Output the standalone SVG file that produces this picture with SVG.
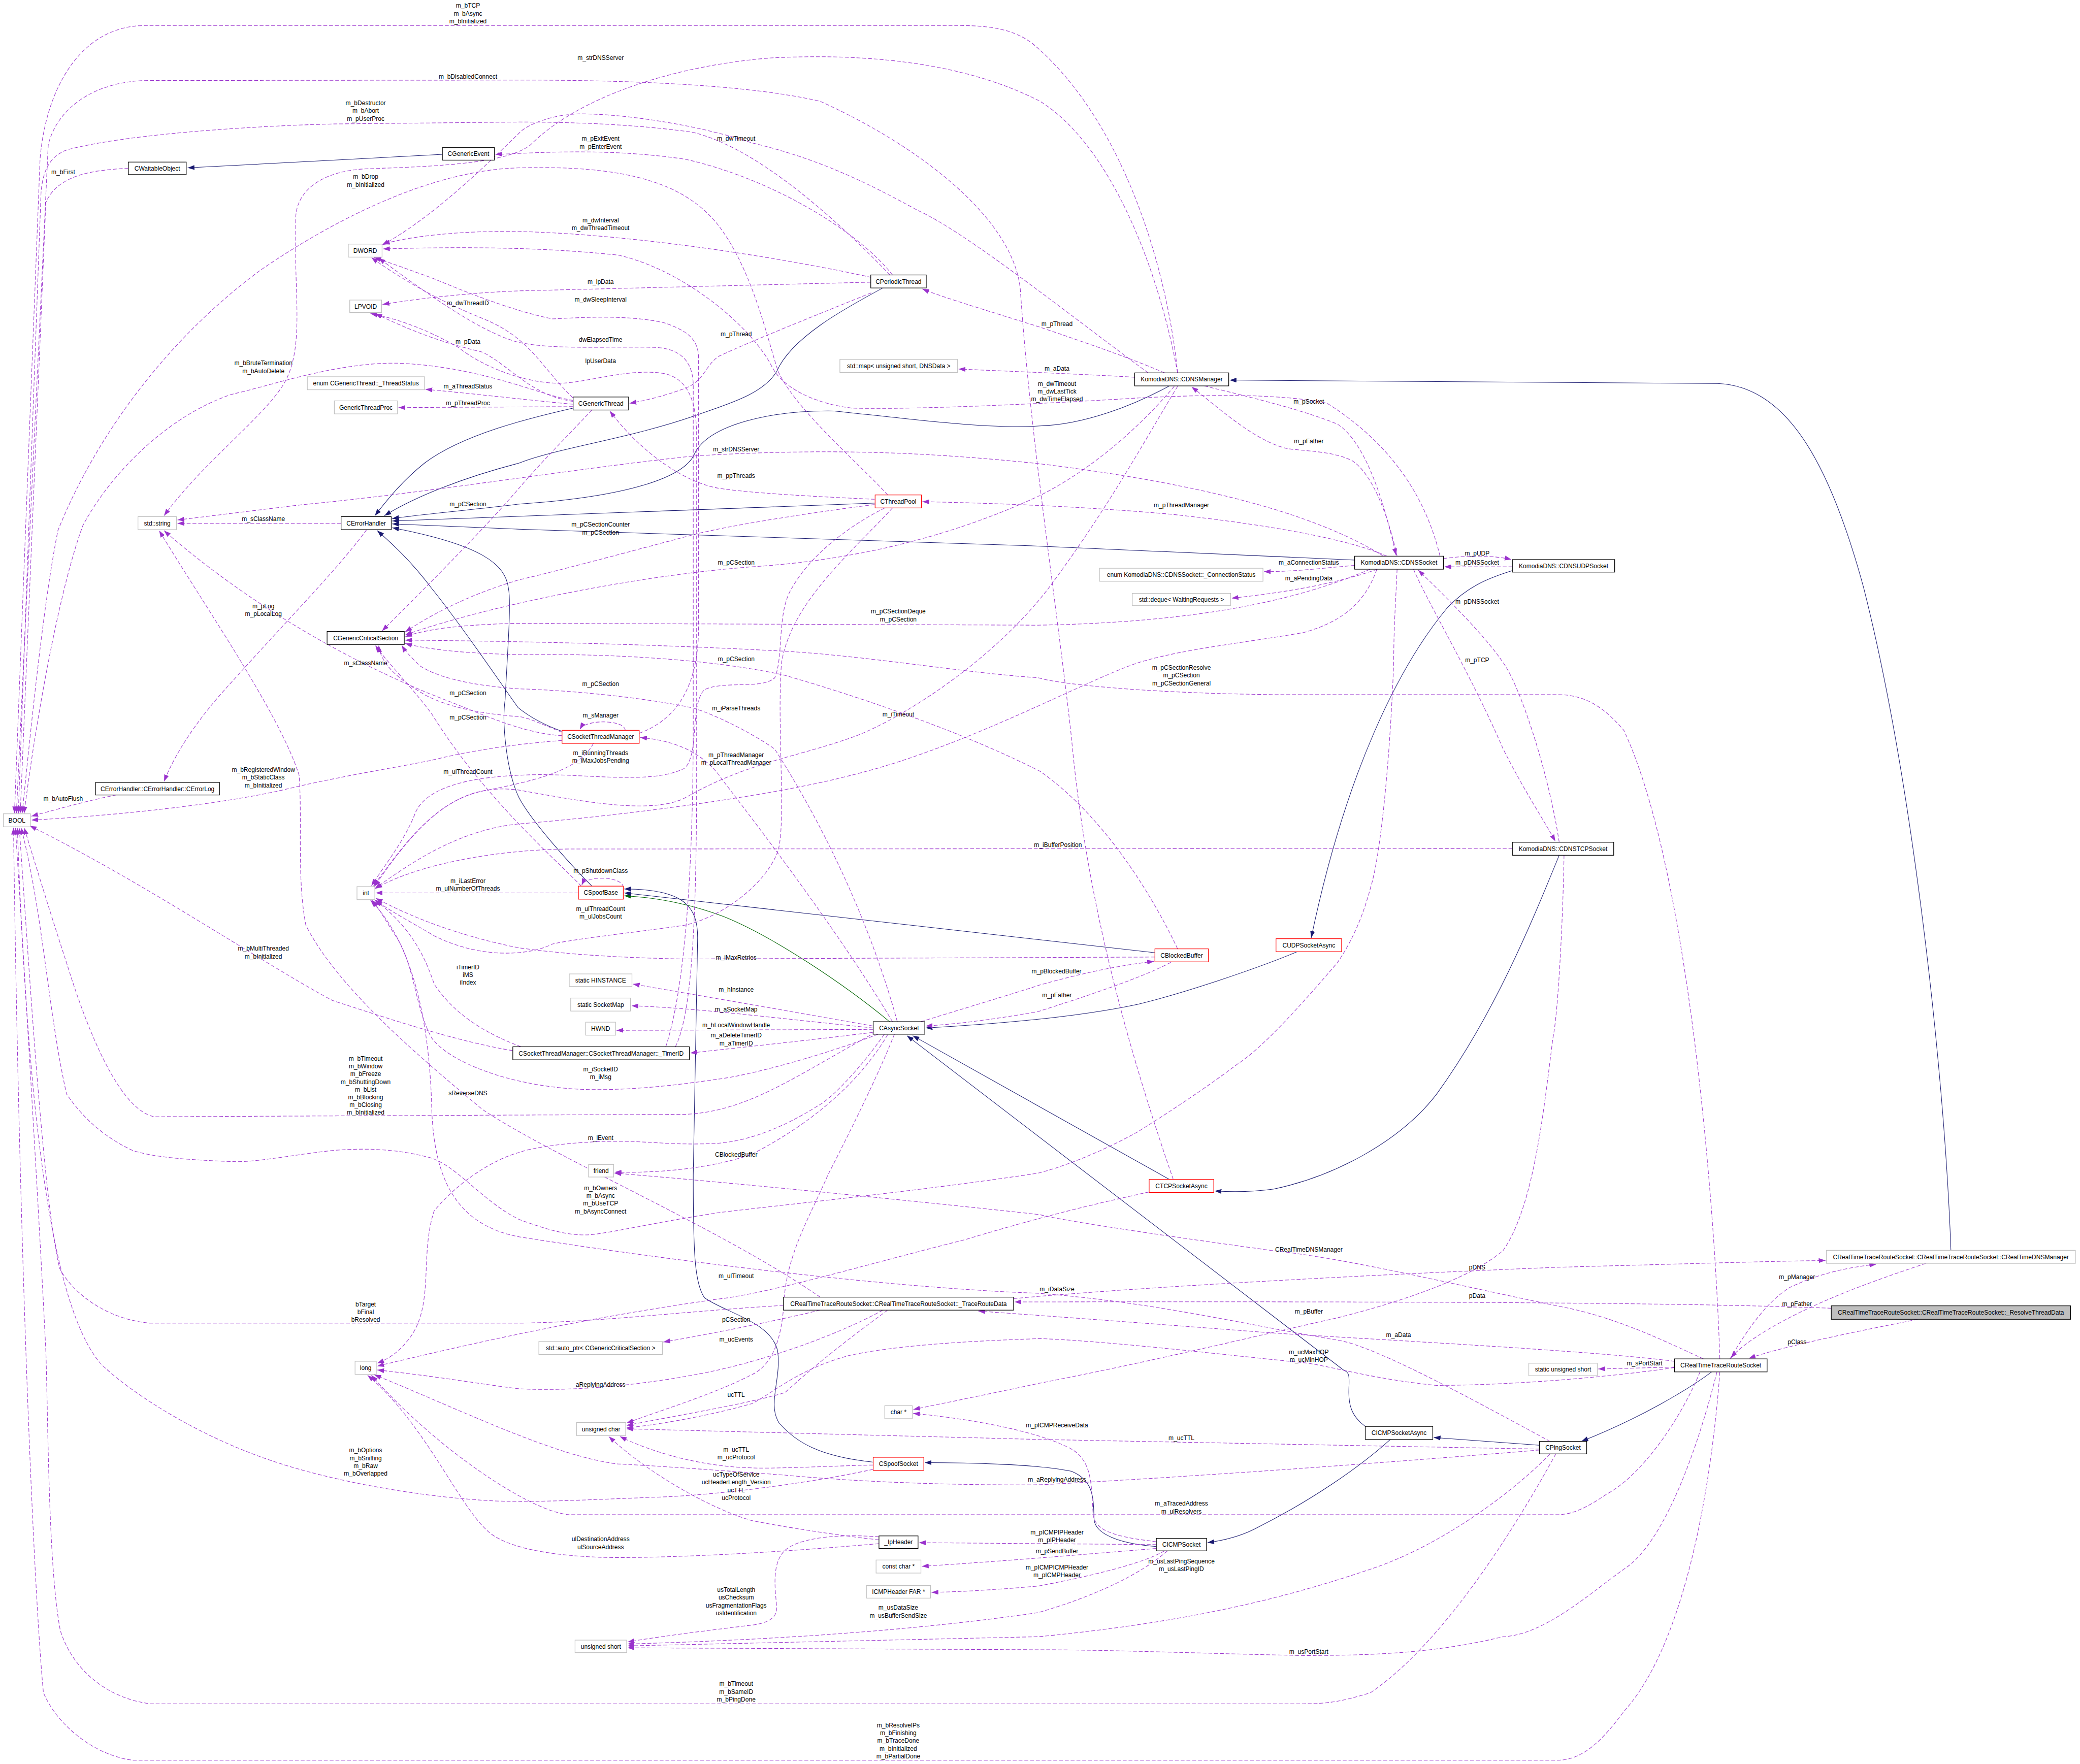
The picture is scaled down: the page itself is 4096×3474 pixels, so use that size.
<svg xmlns="http://www.w3.org/2000/svg" width="4096" height="3474" viewBox="0 0 4096 3474">
<style>
.e{fill:none;stroke:#9a32cd;stroke-width:1.1;stroke-dasharray:8,4;marker-end:url(#ap)}
.i{fill:none;stroke:#191970;stroke-width:1.1;marker-end:url(#an)}
.g{fill:none;stroke:#006400;stroke-width:1.1;marker-end:url(#ag)}
.t{font-family:"Liberation Sans",Arial,sans-serif;font-size:12.7px;fill:#000;text-anchor:middle}
.n rect{fill:#fff;stroke:#000;stroke-width:1.3}
.u rect{fill:#fff;stroke:#bfbfbf;stroke-width:1.3}
.r rect{fill:#fff;stroke:#ff0000;stroke-width:1.3}
.h rect{fill:#bfbfbf;stroke:#000;stroke-width:1.3}
</style>
<defs>
<marker id="ap" viewBox="0 0 14 10" refX="14" refY="5" markerWidth="14" markerHeight="10" markerUnits="userSpaceOnUse" orient="auto"><path d="M0,0 L14,5 L0,10 z" fill="#9a32cd"/></marker>
<marker id="an" viewBox="0 0 14 10" refX="14" refY="5" markerWidth="14" markerHeight="10" markerUnits="userSpaceOnUse" orient="auto"><path d="M0,0 L14,5 L0,10 z" fill="#191970"/></marker>
<marker id="ag" viewBox="0 0 14 10" refX="14" refY="5" markerWidth="14" markerHeight="10" markerUnits="userSpaceOnUse" orient="auto"><path d="M0,0 L14,5 L0,10 z" fill="#006400"/></marker>
</defs>
<rect width="4096" height="3474" fill="#fff"/>
<g transform="scale(0.95)">
<g id="connectors">
<!-- inheritance -->
<path class="i" d="M917,320 L389,348"/>
<path class="i" d="M1188,846 C1100,866 960,900 880,960 C830,1000 800,1040 777,1069"/>
<path class="i" d="M1830,597 C1750,640 1640,700 1610,770 C1580,820 1500,840 1434,864 C1300,910 1150,930 1076,960 C960,990 860,1030 797,1069"/>
<path class="i" d="M2424,800 C2350,840 2250,880 2156,883 C2050,890 1900,870 1730,852 C1600,850 1470,880 1440,940 C1420,990 1300,1030 1076,1045 C950,1060 860,1068 813,1075"/>
<path class="i" d="M1814,1043 L813,1080"/>
<path class="i" d="M2808,1161 L2152,1132 L1076,1097 L813,1086"/>
<path class="i" d="M1165,1516 C1120,1500 1090,1480 1074,1467 C1040,1420 960,1300 895,1220 C850,1160 810,1125 782,1100"/>
<path class="i" d="M1227,1837 C1180,1790 1100,1700 1076,1654 C1050,1600 1040,1500 1047,1451 C1052,1350 1060,1250 1054,1220 C1048,1170 1000,1130 813,1094"/>
<path class="g" d="M1844,2118 C1750,2040 1600,1940 1500,1900 C1420,1870 1350,1860 1294,1857"/>
<path class="i" d="M1810,3031 C1700,3020 1650,2990 1615,2950 C1590,2910 1620,2860 1612,2801 C1600,2740 1500,2720 1460,2690 C1440,2660 1437,2600 1437,2436 L1446,1950 C1448,1880 1420,1843 1294,1843"/>
<path class="i" d="M2394,1975 L1294,1851"/>
<path class="i" d="M3135,1183 C3080,1200 3040,1218 3000,1260 C2900,1380 2790,1600 2718,1944"/>
<path class="i" d="M2689,1973 C2600,2010 2450,2060 2358,2082 C2250,2105 2100,2121 1919,2131"/>
<path class="i" d="M2424,2445 L1892,2147"/>
<path class="i" d="M2830,2957 C2800,2935 2796,2910 2796,2887 C2796,2860 2800,2845 2786,2841 L1880,2147"/>
<path class="i" d="M3232,1773 C3180,1900 3100,2100 2978,2268 C2900,2370 2760,2440 2640,2465 C2590,2472 2550,2471 2518,2469"/>
<path class="i" d="M3191,2996 L2972,2980"/>
<path class="i" d="M2882,2984 C2820,3040 2720,3110 2600,3170 C2570,3185 2540,3193 2503,3198"/>
<path class="i" d="M2397,3206 C2320,3200 2270,3180 2268,3150 C2266,3110 2270,3070 2221,3050 C2150,3035 2000,3032 1917,3032"/>
<path class="i" d="M3548,2844 C3500,2880 3400,2940 3278,2988"/>
<path class="i" d="M4044,2592 C4030,2200 3960,1600 3863,1218 C3790,950 3700,800 3560,795 L2549,788"/>

<!-- BOOL -->
<g><path class="e" d="M2441,773 C2420,560 2330,250 2140,90 C2100,60 2050,53 1990,53 L300,53 C170,53 95,180 83,330 L30,1686"/><text class="t" x="970" y="16"><tspan x="970">m_bTCP</tspan><tspan x="970" dy="16.2">m_bAsync</tspan><tspan x="970" dy="16.2">m_bInitialized</tspan></text></g>
<g><path class="e" d="M2432,2445 C2330,2150 2250,1850 2221,1529 C2190,1250 2135,900 2115,600 C2100,450 1900,300 1700,210 C1550,175 1300,166 1076,166 L300,167 C200,170 120,220 100,300 L34,1686"/><text class="t" x="970" y="163">m_bDisabledConnect</text></g>
<g><path class="e" d="M1845,570 C1700,420 1550,300 1434,274 C1300,255 1150,253 1076,253 L689,257 C500,262 250,280 138,311 C100,325 88,360 85,400 L38,1686"/><text class="t" x="758" y="218"><tspan x="758">m_bDestructor</tspan><tspan x="758" dy="16.2">m_bAbort</tspan><tspan x="758" dy="16.2">m_pUserProc</tspan></text></g>
<g><path class="e" d="M266,349 C200,352 120,360 95,420 L42,1686"/><text class="t" x="131" y="361">m_bFirst</text></g>
<g><path class="e" d="M1840,1026 C1780,960 1650,850 1613,770 C1590,700 1560,560 1489,467 C1420,380 1300,342 1076,348 C900,352 700,450 540,560 C350,700 200,900 120,1100 C90,1250 65,1500 46,1686"/><text class="t" x="758" y="371"><tspan x="758">m_bDrop</tspan><tspan x="758" dy="16.2">m_bInitialized</tspan></text></g>
<g><path class="e" d="M1188,830 C1120,820 1000,760 826,753 C700,750 560,800 482,817 C350,860 230,980 172,1089 C130,1200 80,1450 50,1686"/><text class="t" x="546" y="757"><tspan x="546">m_bBruteTermination</tspan><tspan x="546" dy="16.2">m_bAutoDelete</tspan></text></g>
<g><path class="e" d="M241,1648 C180,1660 110,1680 65,1692"/><text class="t" x="131" y="1660">m_bAutoFlush</text></g>
<g><path class="e" d="M1165,1535 C1100,1540 1000,1550 895,1576 C800,1595 700,1610 585,1638 C450,1668 250,1690 65,1700"/><text class="t" x="546" y="1600"><tspan x="546">m_bRegisteredWindow</tspan><tspan x="546" dy="16.2">m_bStaticClass</tspan><tspan x="546" dy="16.2">m_bInitialized</tspan></text></g>
<g><path class="e" d="M1063,2178 C950,2160 800,2110 689,2074 C550,2000 300,1830 62,1712"/><text class="t" x="546" y="1971"><tspan x="546">m_bMultiThreaded</tspan><tspan x="546" dy="16.2">m_bInitialized</tspan></text></g>
<g><path class="e" d="M1815,2140 C1650,2230 1550,2305 1420,2310 L320,2315 C240,2300 170,2100 138,1996 C100,1880 70,1780 50,1716"/><text class="t" x="758" y="2199"><tspan x="758">m_bTimeout</tspan><tspan x="758" dy="16">m_bWindow</tspan><tspan x="758" dy="16">m_bFreeze</tspan><tspan x="758" dy="16">m_bShuttingDown</tspan><tspan x="758" dy="16">m_bList</tspan><tspan x="758" dy="16">m_bBlocking</tspan><tspan x="758" dy="16">m_bClosing</tspan><tspan x="758" dy="16">m_bInitialized</tspan></text></g>
<g><path class="e" d="M2896,1180 C2893,1250 2889,1300 2889,1374 C2880,1600 2860,1780 2841,1840 C2820,1920 2790,1970 2772,1996 C2700,2080 2620,2170 2565,2206 C2480,2270 2400,2320 2359,2346 C2280,2390 2200,2420 2152,2432 C1900,2470 1600,2500 1489,2514 C1350,2535 1250,2560 1214,2560 C1180,2560 1150,2555 1076,2528 C1000,2490 950,2420 895,2401 C820,2380 750,2380 689,2385 C600,2395 530,2410 482,2408 C400,2405 320,2400 275,2385 C200,2350 160,2300 138,2268 C100,2100 90,1900 44,1716"/><text class="t" x="1245" y="2467"><tspan x="1245">m_bOwners</tspan><tspan x="1245" dy="16.1">m_bAsync</tspan><tspan x="1245" dy="16.1">m_bUseTCP</tspan><tspan x="1245" dy="16.1">m_bAsyncConnect</tspan></text></g>
<g><path class="e" d="M1624,2706 C1400,2720 1250,2740 1076,2743 L311,2743 C220,2735 150,2680 124,2630 C90,2500 60,2000 40,1716"/><text class="t" x="758" y="2708"><tspan x="758">bTarget</tspan><tspan x="758" dy="16">bFinal</tspan><tspan x="758" dy="16">bResolved</tspan></text></g>
<g><path class="e" d="M1810,3046 C1700,3070 1500,3100 1351,3104 C1200,3110 1080,3116 1000,3110 C850,3100 700,3070 600,3040 C400,2980 250,2870 207,2825 C120,2720 60,2400 36,1716"/><text class="t" x="758" y="3011"><tspan x="758">m_bOptions</tspan><tspan x="758" dy="16">m_bSniffing</tspan><tspan x="758" dy="16">m_bRaw</tspan><tspan x="758" dy="16">m_bOverlapped</tspan></text></g>
<g><path class="e" d="M3225,3014 C3150,3150 3000,3400 2841,3509 C2780,3528 2750,3532 2703,3532 L311,3532 C220,3520 150,3460 125,3380 C100,3250 100,2950 95,2800 C80,2500 50,2000 32,1716"/><text class="t" x="1526" y="3495"><tspan x="1526">m_bTimeout</tspan><tspan x="1526" dy="16.2">m_bSameID</tspan><tspan x="1526" dy="16.2">m_bPingDone</tspan></text></g>
<g><path class="e" d="M3565,2844 C3550,3050 3500,3400 3366,3548 C3320,3610 3280,3649 3228,3649 L275,3649 C200,3640 120,3580 90,3509 C70,3300 40,2600 28,1716"/><text class="t" x="1862" y="3581"><tspan x="1862">m_bResolveIPs</tspan><tspan x="1862" dy="16">m_bFinishing</tspan><tspan x="1862" dy="16">m_bTraceDone</tspan><tspan x="1862" dy="16">m_bInitialized</tspan><tspan x="1862" dy="16">m_bPartialDone</tspan></text></g>

<!-- std::string -->
<g><path class="e" d="M707,1085 L368,1085"/><text class="t" x="546" y="1080">m_sClassName</text></g>
<g><path class="e" d="M2868,1153 C2750,1080 2550,1010 2152,961 C1900,935 1700,930 1441,945 C1200,970 900,1020 620,1047 L368,1078"/><text class="t" x="1526" y="936">m_strDNSServer</text></g>
<g><path class="e" d="M2441,773 C2400,550 2300,300 2156,210 C2000,130 1800,110 1600,120 C1400,135 1200,200 1100,300 C1050,340 900,345 758,350 C660,355 615,400 613,450 L613,545 C615,650 625,740 585,801 C540,870 420,960 340,1069"/><text class="t" x="1245" y="124">m_strDNSServer</text></g>
<g><path class="e" d="M1165,1525 C1080,1520 1000,1480 895,1440 C700,1360 500,1240 340,1100"/><text class="t" x="758" y="1379">m_sClassName</text></g>
<g><path class="e" d="M1700,2689 C1500,2550 1150,2400 1000,2300 C880,2200 700,2050 634,1918 C615,1820 627,1700 620,1607 C580,1480 420,1250 330,1100"/><text class="t" x="970" y="2270">sReverseDNS</text></g>

<!-- int -->
<g><path class="e" d="M1199,1851 L779,1851"/><text class="t" x="970" y="1831"><tspan x="970">m_iLastError</tspan><tspan x="970" dy="15.5">m_ulNumberOfThreads</tspan></text></g>
<g><path class="e" d="M1834,1053 C1760,1090 1680,1150 1641,1220 C1610,1270 1625,1360 1606,1405 C1580,1430 1500,1410 1460,1430 C1430,1460 1450,1560 1420,1592 C1350,1630 1200,1600 1080,1607 C950,1612 880,1640 861,1685 C840,1740 800,1790 770,1836"/><text class="t" x="970" y="1604">m_ulThreadCount</text></g>
<g><path class="e" d="M1230,1541 C1200,1600 1100,1620 1000,1640 C900,1660 830,1760 774,1837"/><text class="t" x="1245" y="1565"><tspan x="1245">m_iRunningThreads</tspan><tspan x="1245" dy="16.2">m_iMaxJobsPending</tspan></text></g>
<g><path class="e" d="M2441,801 C2380,900 2300,1050 2173,1220 C2050,1380 1850,1500 1765,1529 C1650,1570 1550,1580 1420,1654 C1350,1690 1200,1660 1076,1638 C950,1620 870,1700 776,1838"/><text class="t" x="1526" y="1473">m_iParseThreads</text></g>
<g><path class="e" d="M2854,1180 C2830,1250 2780,1290 2703,1311 C2600,1330 2450,1345 2359,1374 C2250,1410 2000,1550 1765,1607 C1600,1650 1300,1690 1076,1708 C950,1720 850,1790 777,1842"/><text class="t" x="1862" y="1485">m_iTimeout</text></g>
<g><path class="e" d="M2394,1984 L1420,1988 C1250,1985 1150,1975 1076,1965 C950,1940 850,1900 779,1862"/><text class="t" x="1526" y="1989">m_iMaxRetries</text></g>
<g><path class="e" d="M1080,2170 C1000,2140 940,2100 900,2040 C880,1980 850,1920 776,1865"/><text class="t" x="970" y="2009"><tspan x="970">iTimerID</tspan><tspan x="970" dy="16">iMS</tspan><tspan x="970" dy="16">iIndex</tspan></text></g>
<g><path class="e" d="M1820,2144 C1700,2190 1550,2230 1489,2237 C1400,2250 1300,2262 1200,2258 C1050,2250 930,2200 895,2152 C860,2090 860,2000 820,1940 C800,1910 790,1890 772,1866"/><text class="t" x="1245" y="2221"><tspan x="1245">m_iSocketID</tspan><tspan x="1245" dy="16.2">m_iMsg</tspan></text></g>
<g><path class="e" d="M1850,1053 C1760,1150 1640,1250 1620,1374 C1610,1500 1630,1700 1613,1763 C1590,1830 1500,1900 1420,1918 C1300,1935 1200,1945 1145,1957 C1100,1980 1000,1990 900,1940 C850,1910 810,1890 779,1866"/><text class="t" x="1245" y="1888"><tspan x="1245">m_ulThreadCount</tspan><tspan x="1245" dy="16.2">m_ulJobsCount</tspan></text></g>
<g><path class="e" d="M3135,1759 L1180,1760 C1000,1762 850,1800 778,1842"/><text class="t" x="2193" y="1756">m_iBufferPosition</text></g>
<g><path class="e" d="M3213,2988 C3050,2900 2850,2790 2772,2778 C2600,2750 2400,2700 2152,2681 C1900,2672 1500,2630 1076,2564 C950,2540 900,2450 895,2300 C890,2100 850,1950 768,1866"/><text class="t" x="2191" y="2677">m_iDataSize</text></g>

<!-- CGenericCriticalSection -->
<g><path class="e" d="M1227,850 C1180,900 1120,960 1076,1012 C1000,1100 900,1200 792,1308"/><text class="t" x="970" y="1049">m_pCSection</text></g>
<g><path class="e" d="M1813,1046 C1700,1060 1500,1090 1420,1113 C1300,1145 1150,1185 1076,1202 C980,1230 900,1270 840,1310"/><text class="t" x="1245" y="1092"><tspan x="1245">m_pCSectionCounter</tspan><tspan x="1245" dy="16.2">m_pCSection</tspan></text></g>
<g><path class="e" d="M2434,801 C2350,900 2250,980 2156,1027 C2000,1100 1800,1160 1558,1175 C1300,1195 1000,1260 840,1316"/><text class="t" x="1526" y="1171">m_pCSection</text></g>
<g><path class="e" d="M2840,1180 C2700,1240 2500,1290 2152,1296 L1076,1292 C950,1295 880,1305 840,1320"/><text class="t" x="1862" y="1272"><tspan x="1862">m_pCSectionDeque</tspan><tspan x="1862" dy="16.2">m_pCSection</tspan></text></g>
<g><path class="e" d="M3565,2817 C3555,2500 3500,1800 3366,1514 C3320,1460 3280,1440 3228,1440 L2650,1440 C2400,1438 2200,1420 2152,1405 C2000,1395 1800,1360 1627,1350 C1400,1338 1150,1330 840,1327"/><text class="t" x="2449" y="1388"><tspan x="2449">m_pCSectionResolve</tspan><tspan x="2449" dy="16.3">m_pCSection</tspan><tspan x="2449" dy="16.3">m_pCSectionGeneral</tspan></text></g>
<g><path class="e" d="M2441,1967 C2400,1880 2300,1700 2156,1599 C2000,1520 1800,1450 1627,1400 C1450,1360 1200,1355 1076,1357 C960,1355 880,1345 840,1334"/><text class="t" x="1526" y="1371">m_pCSection</text></g>
<g><path class="e" d="M1860,2118 C1800,1900 1700,1700 1606,1553 C1560,1520 1480,1480 1434,1467 C1300,1440 1150,1430 1076,1428 C960,1420 900,1400 870,1380 C850,1360 840,1350 833,1338"/><text class="t" x="1245" y="1422">m_pCSection</text></g>
<g><path class="e" d="M1165,1518 C1120,1500 1100,1490 1080,1486 C1000,1480 930,1467 880,1440 C830,1410 790,1380 785,1338"/><text class="t" x="970" y="1492">m_pCSection</text></g>
<g><path class="e" d="M1205,1837 C1150,1780 1000,1650 895,1480 C850,1420 800,1370 778,1338"/><text class="t" x="970" y="1441">m_pCSection</text></g>

<!-- CErrorLog -->
<g><path class="e" d="M760,1098 C700,1180 600,1280 482,1412 C400,1500 360,1570 340,1620"/><text class="t" x="546" y="1261"><tspan x="546">m_pLog</tspan><tspan x="546" dy="16.2">m_pLocalLog</tspan></text></g>

<!-- DWORD -->
<g><path class="e" d="M1806,575 C1600,530 1300,485 1076,480 C950,478 850,490 794,506"/><text class="t" x="1245" y="461"><tspan x="1245">m_dwInterval</tspan><tspan x="1245" dy="16.2">m_dwThreadTimeout</tspan></text></g>
<g><path class="e" d="M2985,1153 C2960,1050 2900,930 2751,836 C2650,815 2500,818 2359,825 C2200,835 1900,850 1765,846 C1680,835 1620,800 1600,760 C1560,680 1420,560 1282,529 C1150,515 1000,510 794,516"/><text class="t" x="2191" y="800"><tspan x="2191">m_dwTimeout</tspan><tspan x="2191" dy="16">m_dwLastTick</tspan><tspan x="2191" dy="16">m_dwTimeElapsed</tspan></text></g>
<g><path class="e" d="M2380,773 C2200,640 2000,480 1902,436 C1800,380 1700,330 1558,296 C1450,260 1300,236 1200,236 C1140,238 1090,260 1076,276 C1020,330 900,450 792,508"/><text class="t" x="1526" y="292">m_dwTimeout</text></g>
<g><path class="e" d="M1380,2170 C1420,2050 1437,1800 1437,1500 L1437,800 C1437,740 1400,720 1350,720 C1250,718 1150,725 1076,710 C1000,690 900,620 785,535"/><text class="t" x="1245" y="708">dwElapsedTime</text></g>
<g><path class="e" d="M1325,1520 C1380,1500 1448,1450 1448,1300 L1448,740 C1447,700 1420,685 1380,670 C1300,650 1180,660 1145,661 C1080,648 1000,620 895,576 C850,560 810,545 776,534"/><text class="t" x="1245" y="625">m_dwSleepInterval</text></g>
<g><path class="e" d="M1188,825 C1120,760 1100,700 1000,660 C900,620 820,570 770,534"/><text class="t" x="970" y="633">m_dwThreadID</text></g>

<!-- LPVOID -->
<g><path class="e" d="M1805,585 L1076,603 C950,608 850,622 793,631"/><text class="t" x="1245" y="588">m_lpData</text></g>
<g><path class="e" d="M1188,832 C1100,820 1060,760 1000,730 C950,718 880,700 778,650"/><text class="t" x="970" y="713">m_pData</text></g>
<g><path class="e" d="M1400,2170 C1435,2100 1444,1900 1444,1600 L1444,900 C1443,820 1420,786 1380,775 C1300,760 1200,800 1145,794 C1080,790 1000,760 950,720 C880,680 820,660 768,650"/><text class="t" x="1245" y="753">lpUserData</text></g>

<!-- CGenericEvent, CGenericThread and related -->
<g><path class="e" d="M1850,570 C1780,480 1600,370 1420,330 C1250,305 1100,318 1027,320"/><text class="t" x="1245" y="292"><tspan x="1245">m_pExitEvent</tspan><tspan x="1245" dy="16.2">m_pEnterEvent</tspan></text></g>
<g><path class="e" d="M1806,607 C1700,650 1550,710 1489,739 C1460,760 1460,790 1420,805 C1380,820 1340,830 1305,836"/><text class="t" x="1526" y="697">m_pThread</text></g>
<g><path class="e" d="M1813,1035 C1700,1030 1550,1022 1489,1012 C1420,1000 1330,940 1264,852"/><text class="t" x="1526" y="991">m_ppThreads</text></g>
<g><path class="e" d="M1188,838 C1100,830 1000,818 882,807"/><text class="t" x="970" y="805">m_aThreadStatus</text></g>
<g><path class="e" d="M1188,843 L826,845"/><text class="t" x="970" y="840">m_pThreadProc</text></g>

<!-- DNS -->
<g><path class="e" d="M2875,1153 C2800,1120 2650,1090 2427,1066 C2300,1055 2150,1045 1912,1040"/><text class="t" x="2449" y="1052">m_pThreadManager</text></g>
<g><path class="e" d="M2896,1153 C2880,1080 2850,990 2806,957 C2770,935 2700,935 2669,930 C2600,915 2520,840 2470,802"/><text class="t" x="2713" y="919">m_pFather</text></g>
<g><path class="e" d="M2496,800 C2600,825 2700,850 2772,879 C2820,910 2860,1000 2894,1151"/><text class="t" x="2713" y="837">m_pSocket</text></g>
<g><path class="e" d="M2414,773 C2350,745 2250,710 2152,677 C2050,645 1950,615 1912,599"/><text class="t" x="2191" y="676">m_pThread</text></g>
<g><path class="e" d="M2352,782 C2250,776 2100,770 1987,765"/><text class="t" x="2191" y="768">m_aData</text></g>
<g><path class="e" d="M2992,1158 C3050,1150 3100,1152 3133,1160"/><text class="t" x="3062" y="1152">m_pUDP</text></g>
<g><path class="e" d="M3135,1175 L2994,1175"/><text class="t" x="3062" y="1171">m_pDNSSocket</text></g>
<g><path class="e" d="M3232,1746 C3210,1600 3150,1420 3116,1374 C3080,1320 3000,1240 2940,1182"/><text class="t" x="3062" y="1252">m_pDNSSocket</text></g>
<g><path class="e" d="M2930,1180 C2960,1250 3050,1400 3116,1553 C3160,1640 3200,1700 3224,1744"/><text class="t" x="3062" y="1373">m_pTCP</text></g>
<g><path class="e" d="M2808,1172 C2720,1180 2680,1185 2620,1185"/><text class="t" x="2713" y="1171">m_aConnectionStatus</text></g>
<g><path class="e" d="M2855,1180 C2800,1200 2700,1225 2553,1240"/><text class="t" x="2713" y="1203">m_aPendingData</text></g>

<!-- Socket thread manager / spoof base -->
<g><path class="e" d="M1296,1514 C1296,1492 1214,1490 1202,1512"/><text class="t" x="1245" y="1487">m_sManager</text></g>
<g><path class="e" d="M1850,2118 C1750,1950 1600,1750 1500,1620 C1460,1560 1400,1535 1327,1529"/><text class="t" x="1526" y="1569"><tspan x="1526">m_pThreadManager</tspan><tspan x="1526" dy="16.2">m_pLocalThreadManager</tspan></text></g>
<g><path class="e" d="M1292,1840 C1292,1816 1214,1814 1206,1835"/><text class="t" x="1245" y="1809">m_pShutdownClass</text></g>

<!-- CAsyncSocket members -->
<g><path class="e" d="M1810,2127 C1600,2090 1400,2055 1312,2040"/><text class="t" x="1526" y="2056">m_hInstance</text></g>
<g><path class="e" d="M1810,2131 C1600,2110 1450,2090 1309,2085"/><text class="t" x="1526" y="2097">m_aSocketMap</text></g>
<g><path class="e" d="M1810,2134 L1278,2136"/><text class="t" x="1526" y="2129">m_hLocalWindowHandle</text></g>
<g><path class="e" d="M1810,2140 C1650,2160 1500,2175 1431,2183"/><text class="t" x="1526" y="2151"><tspan x="1526">m_aDeleteTimerID</tspan><tspan x="1526" dy="16.2">m_aTimerID</tspan></text></g>
<g><path class="e" d="M1909,2118 C2000,2090 2100,2060 2152,2043 C2250,2015 2330,2000 2392,1993"/><text class="t" x="2190" y="2018">m_pBlockedBuffer</text></g>
<g><path class="e" d="M2427,1995 C2380,2020 2300,2050 2152,2097 C2050,2115 1980,2123 1919,2127"/><text class="t" x="2191" y="2067">m_pFather</text></g>
<g><path class="e" d="M1833,2144 C1780,2220 1720,2280 1696,2292 C1620,2340 1550,2365 1489,2370 C1400,2375 1350,2366 1282,2366 C1180,2366 1100,2380 1076,2389 C1020,2405 950,2450 900,2510 C870,2600 900,2700 852,2770 C830,2800 810,2815 782,2826"/><text class="t" x="1245" y="2363">m_lEvent</text></g>
<g><path class="e" d="M1840,2145 C1790,2230 1700,2320 1558,2393 C1480,2420 1380,2432 1274,2430"/><text class="t" x="1526" y="2398">CBlockedBuffer</text></g>
<g><path class="e" d="M1854,2144 C1820,2230 1760,2350 1716,2436 C1680,2520 1630,2600 1625,2700 C1620,2780 1600,2830 1558,2850 C1480,2890 1380,2920 1299,2950"/><text class="t" x="1526" y="2781">m_ucEvents</text></g>

<!-- long -->
<g><path class="e" d="M2382,2471 C2250,2500 2150,2525 2000,2570 C1800,2620 1600,2680 1489,2693 C1300,2720 1100,2755 782,2832"/><text class="t" x="1526" y="2649">m_ulTimeout</text></g>
<g><path class="e" d="M1830,2716 C1750,2760 1620,2810 1489,2840 C1350,2870 1200,2885 1076,2879 C1000,2870 920,2855 782,2840"/><text class="t" x="1245" y="2875">aReplyingAddress</text></g>
<g><path class="e" d="M3191,3006 C2900,3030 2500,3060 2156,3078 C1900,3080 1700,3065 1627,3058 C1450,3045 1300,3035 1282,3035 C1150,3020 950,2920 776,2850"/><text class="t" x="2191" y="3072">m_aReplyingAddress</text></g>
<g><path class="e" d="M3524,2844 C3480,2950 3400,3060 3331,3097 C3290,3125 3260,3140 3228,3140 L1180,3140 C1100,3135 900,3000 770,2851"/><text class="t" x="2449" y="3121"><tspan x="2449">m_aTracedAddress</tspan><tspan x="2449" dy="16.4">m_ulResolvers</tspan></text></g>
<g><path class="e" d="M1822,3200 C1650,3215 1450,3228 1282,3229 C1150,3228 1050,3210 1011,3174 C950,3120 880,2950 762,2851"/><text class="t" x="1245" y="3195"><tspan x="1245">ulDestinationAddress</tspan><tspan x="1245" dy="16.3">ulSourceAddress</tspan></text></g>

<!-- unsigned char -->
<g><path class="e" d="M1840,2716 C1780,2760 1700,2820 1627,2887 C1550,2910 1400,2935 1299,2955"/><text class="t" x="1526" y="2896">ucTTL</text></g>
<g><path class="e" d="M3191,3004 L2152,2984 L1299,2962"/><text class="t" x="2449" y="2985">m_ucTTL</text></g>
<g><path class="e" d="M3471,2835 C3300,2860 3100,2872 2978,2872 C2850,2860 2750,2830 2703,2825 C2550,2810 2300,2780 2156,2775 C2000,2780 1850,2790 1760,2810 C1650,2840 1600,2890 1558,2910 C1450,2940 1350,2955 1299,2960"/><text class="t" x="2713" y="2807"><tspan x="2713">m_ucMaxHOP</tspan><tspan x="2713" dy="16.3">m_ucMinHOP</tspan></text></g>
<g><path class="e" d="M1810,3037 C1700,3040 1600,3045 1558,3043 C1450,3040 1350,3010 1285,2978"/><text class="t" x="1526" y="3009"><tspan x="1526">m_ucTTL</tspan><tspan x="1526" dy="16.3">m_ucProtocol</tspan></text></g>
<g><path class="e" d="M1822,3192 C1750,3185 1620,3165 1558,3152 C1480,3130 1350,3060 1262,2978"/><text class="t" x="1526" y="3061"><tspan x="1526">ucTypeOfService</tspan><tspan x="1526" dy="16.1">ucHeaderLength_Version</tspan><tspan x="1526" dy="16.1">ucTTL</tspan><tspan x="1526" dy="16.1">ucProtocol</tspan></text></g>

<!-- char *, const char *, ICMPHeader, _IpHeader -->
<g><path class="e" d="M3242,1773 C3240,1900 3230,2100 3219,2152 C3200,2300 3180,2500 3116,2592 C3050,2650 2900,2700 2772,2732 C2600,2770 2400,2820 2152,2868 C2050,2890 1950,2910 1893,2922"/><text class="t" x="2713" y="2723">m_pBuffer</text></g>
<g><path class="e" d="M2397,3196 C2300,3185 2270,3170 2266,3140 C2262,3080 2265,3030 2221,3004 C2150,2965 2000,2940 1893,2930"/><text class="t" x="2191" y="2959">m_pICMPReceiveData</text></g>
<g><path class="e" d="M2397,3210 C2250,3222 2100,3235 1911,3247"/><text class="t" x="2191" y="3220">m_pSendBuffer</text></g>
<g><path class="e" d="M2414,3215 C2380,3235 2300,3260 2152,3288 C2060,3296 1990,3300 1931,3301"/><text class="t" x="2191" y="3254"><tspan x="2191">m_pICMPICMPHeader</tspan><tspan x="2191" dy="15.6">m_pICMPHeader</tspan></text></g>
<g><path class="e" d="M2397,3202 L1905,3198"/><text class="t" x="2191" y="3181"><tspan x="2191">m_pICMPIPHeader</tspan><tspan x="2191" dy="16.3">m_pIPHeader</tspan></text></g>

<!-- unsigned short -->
<g><path class="e" d="M1822,3186 C1750,3180 1660,3185 1627,3214 C1600,3240 1606,3290 1610,3330 C1612,3355 1590,3365 1558,3369 C1450,3382 1350,3395 1301,3404"/><text class="t" x="1526" y="3300"><tspan x="1526">usTotalLength</tspan><tspan x="1526" dy="16.1">usChecksum</tspan><tspan x="1526" dy="16.1">usFragmentationFlags</tspan><tspan x="1526" dy="16.1">usIdentification</tspan></text></g>
<g><path class="e" d="M3213,3014 C3150,3080 3000,3200 2841,3253 C2700,3300 2500,3360 2152,3393 L1301,3412"/><text class="t" x="1862" y="3337"><tspan x="1862">m_usDataSize</tspan><tspan x="1862" dy="16.3">m_usBufferSendSize</tspan></text></g>
<g><path class="e" d="M2420,3215 C2380,3250 2300,3300 2152,3343 C1900,3380 1600,3400 1301,3408"/><text class="t" x="2449" y="3241"><tspan x="2449">m_usLastPingSequence</tspan><tspan x="2449" dy="16.3">m_usLastPingID</tspan></text></g>
<g><path class="e" d="M3559,2844 C3520,3000 3450,3200 3366,3253 C3300,3300 3200,3390 3116,3393 C3000,3420 2900,3432 2703,3432 C2500,3428 2300,3420 2152,3420 L1301,3416"/><text class="t" x="2713" y="3428">m_usPortStart</text></g>
<g><path class="e" d="M3471,2834 L3313,2838"/><text class="t" x="3409" y="2831">m_sPortStart</text></g>

<!-- real time trace route -->
<g><path class="e" d="M3586,2817 C3620,2760 3660,2700 3710,2669 C3780,2635 3850,2625 3889,2621"/><text class="t" x="3725" y="2652">m_pManager</text></g>
<g><path class="e" d="M2101,2692 C2400,2665 2900,2640 3232,2627 C3500,2620 3650,2615 3784,2613"/><text class="t" x="3062" y="2632">pDNS</text></g>
<g><path class="e" d="M3531,2817 C3450,2780 3350,2730 3232,2708 C3000,2660 2800,2610 2634,2592 C2400,2560 2200,2530 2156,2518 C1900,2490 1500,2450 1274,2432"/><text class="t" x="2713" y="2595">CRealTimeDNSManager</text></g>
<g><path class="e" d="M3992,2619 C3900,2650 3750,2700 3641,2771 C3620,2785 3600,2800 3588,2815"/><text class="t" x="3725" y="2707">m_pFather</text></g>
<g><path class="e" d="M3975,2735 C3850,2760 3700,2790 3625,2816"/><text class="t" x="3725" y="2786">pClass</text></g>
<g><path class="e" d="M3796,2712 C3600,2705 3300,2697 2103,2699"/><text class="t" x="3062" y="2691">pData</text></g>
<g><path class="e" d="M3471,2822 C3300,2800 2900,2780 2634,2763 C2400,2745 2200,2730 2028,2718"/><text class="t" x="2899" y="2772">m_aData</text></g>
<g><path class="e" d="M1700,2716 C1600,2740 1450,2770 1375,2782"/><text class="t" x="1526" y="2740">pCSection</text></g>
</g>

<!-- nodes -->
<g id="n_CWaitableObject" class="n"><rect x="266" y="336" width="120" height="26"/><text class="t" x="326" y="353.5">CWaitableObject</text></g>
<g id="n_CGenericEvent" class="n"><rect x="917" y="306" width="108" height="26"/><text class="t" x="971" y="323.5">CGenericEvent</text></g>
<g id="n_DWORD" class="u"><rect x="722" y="506" width="70" height="27"/><text class="t" x="757" y="524">DWORD</text></g>
<g id="n_LPVOID" class="u"><rect x="725" y="622" width="66" height="26"/><text class="t" x="758" y="639.5">LPVOID</text></g>
<g id="n_ThreadStatus" class="u"><rect x="637" y="781" width="243" height="27"/><text class="t" x="758.5" y="799">enum CGenericThread::_ThreadStatus</text></g>
<g id="n_GenericThreadProc" class="u"><rect x="693" y="831" width="131" height="27"/><text class="t" x="758.5" y="849">GenericThreadProc</text></g>
<g id="n_stdstring" class="u"><rect x="286" y="1071" width="80" height="27"/><text class="t" x="326" y="1089">std::string</text></g>
<g id="n_CErrorHandler" class="n"><rect x="707" y="1071" width="104" height="27"/><text class="t" x="759" y="1089">CErrorHandler</text></g>
<g id="n_CGenericCriticalSection" class="n"><rect x="678" y="1309" width="160" height="27"/><text class="t" x="758" y="1327">CGenericCriticalSection</text></g>
<g id="n_CErrorLog" class="n"><rect x="198" y="1622" width="257" height="26"/><text class="t" x="326.5" y="1639.5">CErrorHandler::CErrorHandler::CErrorLog</text></g>
<g id="n_BOOL" class="u"><rect x="7" y="1687" width="56" height="27"/><text class="t" x="35" y="1705">BOOL</text></g>
<g id="n_int" class="u"><rect x="740" y="1838" width="37" height="27"/><text class="t" x="758.5" y="1856">int</text></g>
<g id="n_CSocketThreadManager" class="r"><rect x="1165" y="1514" width="160" height="27"/><text class="t" x="1245" y="1532">CSocketThreadManager</text></g>
<g id="n_CSpoofBase" class="r"><rect x="1199" y="1837" width="93" height="27"/><text class="t" x="1245.5" y="1855">CSpoofBase</text></g>
<g id="n_HINSTANCE" class="u"><rect x="1180" y="2019" width="130" height="26"/><text class="t" x="1245" y="2036.5">static HINSTANCE</text></g>
<g id="n_SocketMap" class="u"><rect x="1183" y="2069" width="124" height="27"/><text class="t" x="1245" y="2087">static SocketMap</text></g>
<g id="n_HWND" class="u"><rect x="1214" y="2119" width="62" height="27"/><text class="t" x="1245" y="2137">HWND</text></g>
<g id="n_TimerID" class="n"><rect x="1063" y="2170" width="366" height="27"/><text class="t" x="1246" y="2188">CSocketThreadManager::CSocketThreadManager::_TimerID</text></g>
<g id="n_friend" class="u"><rect x="1220" y="2414" width="52" height="26"/><text class="t" x="1246" y="2431.5">friend</text></g>
<g id="n_CPeriodicThread" class="n"><rect x="1805" y="570" width="115" height="27"/><text class="t" x="1862.5" y="588">CPeriodicThread</text></g>
<g id="n_CGenericThread" class="n"><rect x="1188" y="823" width="115" height="27"/><text class="t" x="1245.5" y="841">CGenericThread</text></g>
<g id="n_stdmap" class="u"><rect x="1741" y="745" width="244" height="27"/><text class="t" x="1863" y="763">std::map&lt; unsigned short, DNSData &gt;</text></g>
<g id="n_CThreadPool" class="r"><rect x="1814" y="1026" width="96" height="27"/><text class="t" x="1862" y="1044">CThreadPool</text></g>
<g id="n_CDNSManager" class="n"><rect x="2352" y="773" width="195" height="27"/><text class="t" x="2449.5" y="791">KomodiaDNS::CDNSManager</text></g>
<g id="n_CDNSSocket" class="n"><rect x="2808" y="1153" width="184" height="27"/><text class="t" x="2900" y="1171">KomodiaDNS::CDNSSocket</text></g>
<g id="n_ConnectionStatus" class="u"><rect x="2279" y="1178" width="339" height="27"/><text class="t" x="2448.5" y="1196">enum KomodiaDNS::CDNSSocket::_ConnectionStatus</text></g>
<g id="n_CDNSUDPSocket" class="n"><rect x="3135" y="1160" width="212" height="26"/><text class="t" x="3241" y="1177.5">KomodiaDNS::CDNSUDPSocket</text></g>
<g id="n_stddeque" class="u"><rect x="2347" y="1230" width="204" height="25"/><text class="t" x="2449" y="1247">std::deque&lt; WaitingRequests &gt;</text></g>
<g id="n_CBlockedBuffer" class="r"><rect x="2394" y="1967" width="111" height="27"/><text class="t" x="2449.5" y="1985">CBlockedBuffer</text></g>
<g id="n_CUDPSocketAsync" class="r"><rect x="2645" y="1946" width="136" height="27"/><text class="t" x="2713" y="1964">CUDPSocketAsync</text></g>
<g id="n_CDNSTCPSocket" class="n"><rect x="3135" y="1746" width="210" height="27"/><text class="t" x="3240" y="1764">KomodiaDNS::CDNSTCPSocket</text></g>
<g id="n_CAsyncSocket" class="n"><rect x="1810" y="2118" width="107" height="26"/><text class="t" x="1863.5" y="2135.5">CAsyncSocket</text></g>
<g id="n_long" class="u"><rect x="736" y="2822" width="44" height="27"/><text class="t" x="758" y="2840">long</text></g>
<g id="n_TraceRouteData" class="n"><rect x="1624" y="2689" width="477" height="27"/><text class="t" x="1862.5" y="2707">CRealTimeTraceRouteSocket::CRealTimeTraceRouteSocket::_TraceRouteData</text></g>
<g id="n_autoptr" class="u"><rect x="1117" y="2781" width="256" height="27"/><text class="t" x="1245" y="2799">std::auto_ptr&lt; CGenericCriticalSection &gt;</text></g>
<g id="n_uchar" class="u"><rect x="1195" y="2949" width="102" height="27"/><text class="t" x="1246" y="2967">unsigned char</text></g>
<g id="n_charp" class="u"><rect x="1834" y="2914" width="57" height="27"/><text class="t" x="1862.5" y="2932">char *</text></g>
<g id="n_CSpoofSocket" class="r"><rect x="1810" y="3021" width="105" height="27"/><text class="t" x="1862.5" y="3039">CSpoofSocket</text></g>
<g id="n_IpHeader" class="n"><rect x="1822" y="3184" width="81" height="26"/><text class="t" x="1862.5" y="3201.5">_IpHeader</text></g>
<g id="n_constcharp" class="u"><rect x="1816" y="3234" width="93" height="27"/><text class="t" x="1862.5" y="3252">const char *</text></g>
<g id="n_ICMPHeader" class="u"><rect x="1796" y="3287" width="133" height="26"/><text class="t" x="1862.5" y="3304.5">ICMPHeader FAR *</text></g>
<g id="n_ushort" class="u"><rect x="1192" y="3400" width="107" height="26"/><text class="t" x="1245.5" y="3417.5">unsigned short</text></g>
<g id="n_CTCPSocketAsync" class="r"><rect x="2382" y="2445" width="134" height="27"/><text class="t" x="2449" y="2463">CTCPSocketAsync</text></g>
<g id="n_CICMPSocketAsync" class="n"><rect x="2830" y="2957" width="140" height="27"/><text class="t" x="2900" y="2975">CICMPSocketAsync</text></g>
<g id="n_CICMPSocket" class="n"><rect x="2397" y="3189" width="104" height="26"/><text class="t" x="2449" y="3206.5">CICMPSocket</text></g>
<g id="n_CPingSocket" class="n"><rect x="3191" y="2988" width="98" height="26"/><text class="t" x="3240" y="3005.5">CPingSocket</text></g>
<g id="n_staticushort" class="u"><rect x="3169" y="2826" width="142" height="26"/><text class="t" x="3240" y="2843.5">static unsigned short</text></g>
<g id="n_CRealTimeDNSManager" class="u"><rect x="3786" y="2592" width="516" height="27"/><text class="t" x="4044" y="2610">CRealTimeTraceRouteSocket::CRealTimeTraceRouteSocket::CRealTimeDNSManager</text></g>
<g id="n_ResolveThreadData" class="h"><rect x="3796" y="2707" width="496" height="28"/><text class="t" x="4044" y="2725.5">CRealTimeTraceRouteSocket::CRealTimeTraceRouteSocket::_ResolveThreadData</text></g>
<g id="n_CRealTimeTraceRouteSocket" class="n"><rect x="3471" y="2817" width="192" height="27"/><text class="t" x="3567" y="2835">CRealTimeTraceRouteSocket</text></g>
</g>
</svg>
